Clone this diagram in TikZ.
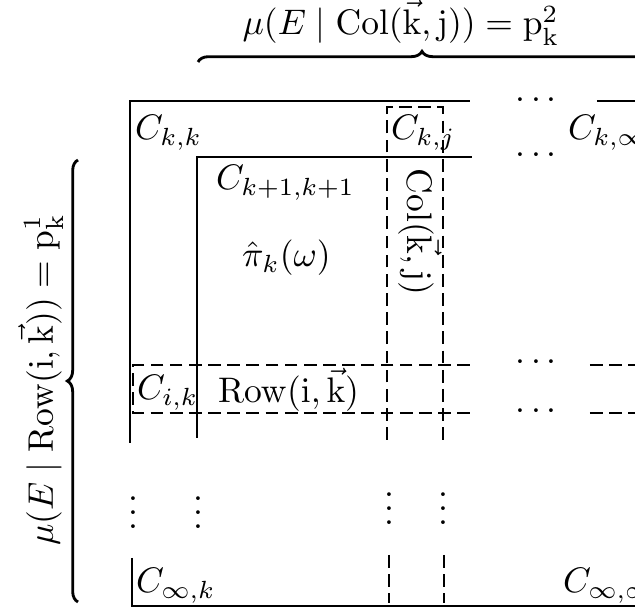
\documentclass[tikz,border=0pt]{standalone}
\usepackage{amsmath,amssymb}
\usepackage{tikz}
\usetikzlibrary{decorations.pathreplacing}

\begin{document}
\begin{tikzpicture}[x=0.2817pt, y=-0.2817pt, line width=0.6pt,
  dsh/.style={dash pattern=on 3.6pt off 1.8pt},
  lbl/.style={anchor=base west, inner sep=0pt},
  brc/.style={line width=0.8pt, decorate, decoration={brace, amplitude=3pt}}]
  \useasboundingbox (0,0) rectangle (635,611);
  % Outer block: top edge and left edge
  \coordinate (O1) at (130,101);
  \coordinate (O2) at (470,101);
  \coordinate (O3) at (130,443);
  \draw (O2) -- (O1) -- (O3);
  \draw (597,101) -- (640,101);
  % Inner block, one step down the diagonal
  \coordinate (I1) at (197,157);
  \coordinate (I2) at (472,157);
  \coordinate (I3) at (197,438);
  \draw (I2) -- (I1) -- (I3);
  % Bottom row
  \draw (132,558) -- (132,606) -- (640,606);
  % Column j (dashed)
  \draw[dsh] (387,440) -- (387,107) -- (443,107) -- (443,440);
  \draw[dsh] (389,555) -- (389,603);
  \draw[dsh] (444,555) -- (444,603);
  % Row i (dashed)
  \draw[dsh] (470,365) -- (133,365) -- (133,413) -- (470,413);
  \draw[dsh] (590,365) -- (640,365);
  \draw[dsh] (590,413) -- (640,413);
  % Braces with their measures
  \draw[brc] (198,62) -- (646,62);
  \draw[brc] (78,602) -- (78,160);
  \node[anchor=base] (collbl) at (401,35)
    {$\mu(E\mid\mathrm{Col}(\vec{\mathrm{k}},\mathrm{j}))=\mathrm{p}_\mathrm{k}^2$};
  \node[anchor=base, rotate=90] (rowlbl) at (53,380)
    {$\mu(E\mid\mathrm{Row}(\mathrm{i},\vec{\mathrm{k}}))=\mathrm{p}_\mathrm{k}^1$};
  % Cells
  \node[lbl] (ckk) at (134,140) {$C_{k,k}$};
  \node[lbl] (ckj) at (390,140) {$C_{k,j}$};
  \node[lbl] (ckinf) at (567,140) {$C_{k,\infty}$};
  \node[lbl] (cknext) at (215,190) {$C_{k+1,k+1}$};
  \node[lbl] (pihat) at (241,267) {$\hat{\pi}_k(\omega)$};
  \node[lbl] (cik) at (136,400) {$C_{i,k}$};
  \node[lbl] (rowik) at (217,403) {$\mathrm{Row}(\mathrm{i},\vec{\mathrm{k}})$};
  \node[lbl] (cinfk) at (135,593) {$C_{\infty,k}$};
  \node[lbl] (cinfinf) at (562,593) {$C_{\infty,\infty}$};
  \node[rotate=-90] (colkj) at (420,232) {$\mathrm{Col}(\vec{\mathrm{k}},\mathrm{j})$};
  % Dots
  \node[anchor=base, inner sep=0pt] (hd1) at (539,109) {$\cdots$};
  \node[anchor=base, inner sep=0pt] (hd2) at (539,164) {$\cdots$};
  \node[anchor=base, inner sep=0pt] (hd3) at (539,371) {$\cdots$};
  \node[anchor=base, inner sep=0pt] (hd4) at (539,420) {$\cdots$};
  \node[anchor=base, inner sep=0pt] (vd1) at (133,529) {$\vdots$};
  \node[anchor=base, inner sep=0pt] (vd2) at (198,529) {$\vdots$};
  \node[anchor=base, inner sep=0pt] (vd3) at (389,525) {$\vdots$};
  \node[anchor=base, inner sep=0pt] (vd4) at (443,525) {$\vdots$};
\end{tikzpicture}
\end{document}
